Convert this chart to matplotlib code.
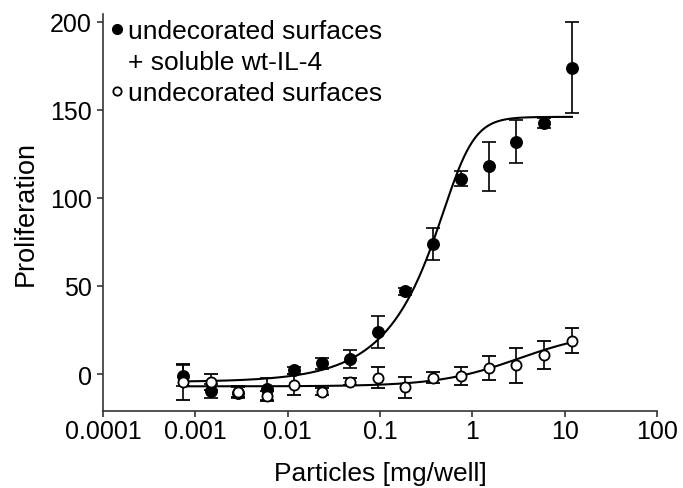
import numpy as np
import matplotlib
matplotlib.use("Agg")
from matplotlib import pyplot as plt
from matplotlib.lines import Line2D

plt.rcParams['font.family'] = ['Liberation Sans', 'DejaVu Sans']

# particle amounts (mg/well), twofold dilution series
particles = [0.00073, 0.00146, 0.0029, 0.0059, 0.0117, 0.0234, 0.047, 0.094,
             0.1875, 0.375, 0.75, 1.5, 3, 6, 12]

# undecorated surfaces + soluble wt-IL-4 (filled)
prolif_il4 = [-1, -9.5, -10.5, -8.5, 2, 6, 8.5, 24, 47, 74, 111, 118, 132, 142.5, 174]
err_il4 = [6, 4, 3, 6, 2, 3, 5, 9, 2, 9, 4, 14, 12, 3, 26]

# undecorated surfaces (open)
prolif_plain = [-4.5, -4.5, -10, -12.5, -6, -10, -4.5, -2, -7.5, -2, -1, 3.5, 5, 11, 19]
err_plain = [10, 4.5, 3, 3, 6, 2, 2, 6, 6, 3, 5, 7, 10, 8, 7]

# fitted dose-response parameters: bottom, top, midpoint, slope, asymmetry
fit_il4 = (-4.5, 146, 0.73, 3.0, 0.3)
fit_plain = (-7, 24.7, 3.2, 1.0, 1.0)


def dose_response(x, bottom, top, mid, slope, asym):
    return bottom + (top - bottom) / (1 + (mid / x) ** slope) ** asym


fig = plt.figure(figsize=[6.83, 4.89], dpi=100)
ax = fig.add_axes([103 / 683, 1 - 412 / 489, 554 / 683, 397 / 489])

xs = np.logspace(np.log10(particles[0]), np.log10(particles[-1]), 300)
ax.plot(xs, dose_response(xs, *fit_il4), color='black', lw=1.5, zorder=2)
ax.plot(xs, dose_response(xs, *fit_plain), color='black', lw=1.5, zorder=2)

ax.errorbar(particles, prolif_il4, yerr=err_il4, fmt='o', color='black',
            ms=8.3, elinewidth=1.2, capsize=4.7, capthick=1.2, zorder=3)
ax.errorbar(particles, prolif_plain, yerr=err_plain, fmt='o', color='black',
            mfc='white', mec='black', mew=1.3, ms=7.3, elinewidth=1.2,
            capsize=4.7, capthick=1.2, zorder=4)

ax.set_xscale('log')
ax.set_xlim(1e-4, 100)
ax.set_ylim(-21, 204.4)
ax.set_xticks([1e-4, 1e-3, 1e-2, 1e-1, 1, 10, 100])
ax.set_xticklabels(["0.0001", "0.001", "0.01", "0.1", "1", "10", "100"])
ax.minorticks_off()
ax.set_yticks([0, 50, 100, 150, 200])

for side in ['top', 'right']:
    ax.spines[side].set_visible(False)
for side in ['left', 'bottom']:
    ax.spines[side].set_linewidth(1.2)
    ax.spines[side].set_color('#333333')
ax.tick_params(direction='out', length=4.5, width=1.2, color='#333333',
               labelsize=18)
ax.tick_params(axis='x', pad=1.5)
ax.tick_params(axis='y', pad=3.5)

ax.set_xlabel("Particles [mg/well]", fontsize=19, labelpad=13)
ax.set_ylabel("Proliferation", fontsize=19.5, labelpad=8)

handles = [Line2D([], [], ls='none', marker='o', color='black', ms=7),
           Line2D([], [], ls='none'),
           Line2D([], [], ls='none', marker='o', mfc='white', mec='black', mew=1.3, ms=6)]
labels = ["undecorated surfaces", "+ soluble wt-IL-4", "undecorated surfaces"]
ax.legend(handles, labels, loc='upper left', bbox_to_anchor=(-0.003, 1.013),
          frameon=False, fontsize=19, handlelength=0.4, handletextpad=0.22,
          labelspacing=0.26, borderaxespad=0.0)

plt.savefig("out.png", dpi=100)
